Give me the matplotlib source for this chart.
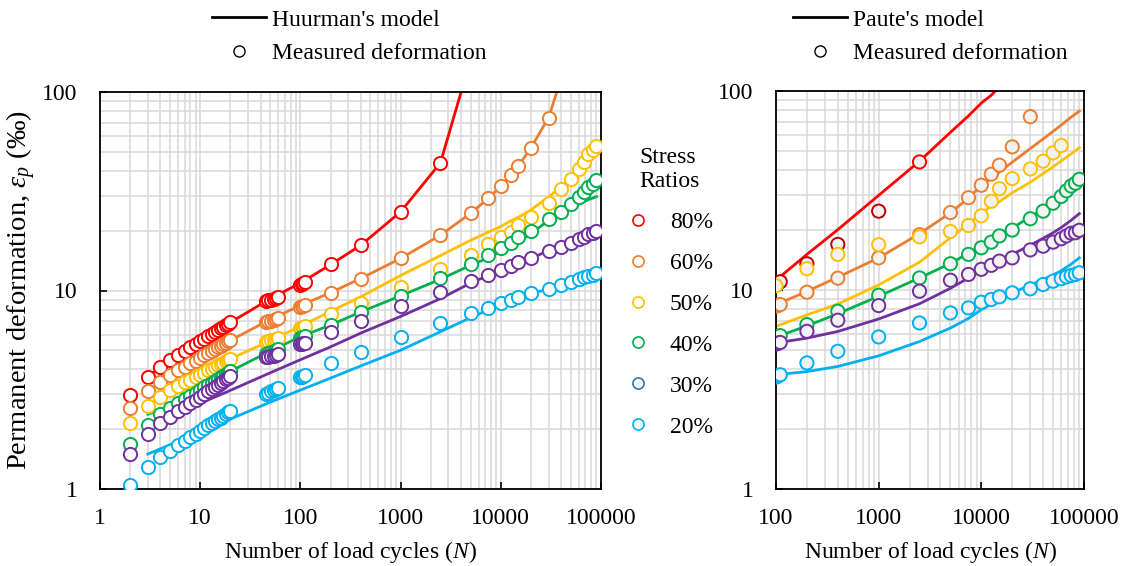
import matplotlib
matplotlib.use("Agg")
import matplotlib.pyplot as plt
from matplotlib.lines import Line2D
from matplotlib.ticker import LogLocator, NullFormatter, FixedLocator, FixedFormatter

plt.rcParams['font.family'] = ['Liberation Serif', 'DejaVu Serif']
plt.rcParams['mathtext.fontset'] = 'custom'
plt.rcParams['mathtext.rm'] = 'Liberation Serif'
plt.rcParams['mathtext.it'] = 'Liberation Serif:italic'
FS = 17

# ---- measured permanent deformation (per mille) vs load cycles ----
n_meas = [2, 3, 4, 5, 6, 7, 8, 9, 10, 11, 12, 13, 14, 15, 16, 17, 18, 19, 20,
          45, 48, 51, 54, 57, 60,
          100, 103, 106, 110,
          200, 400, 1000, 2500,
          5000, 7500, 10000, 12500, 15000, 20000, 30000, 40000, 50000, 60000,
          67500, 75000, 82500, 90000]

eps_80 = [2.97, 3.68, 4.10, 4.47, 4.73, 4.97, 5.18, 5.38, 5.56, 5.73, 5.89, 6.04, 6.18,
          6.32, 6.45, 6.57, 6.69, 6.81, 6.92,
          8.85, 8.95, 9.0, 9.1, 9.15, 9.25,
          10.7, 10.8, 10.9, 11.0,
          13.55, 16.95, 24.9, 44.0]
eps_60 = [2.57, 3.12, 3.47, 3.75, 3.96, 4.13, 4.29, 4.43, 4.59, 4.72, 4.85, 4.96, 5.07,
          5.17, 5.27, 5.37, 5.46, 5.55, 5.63,
          6.95, 7.0, 7.05, 7.1, 7.2, 7.25,
          8.3, 8.35, 8.4, 8.45,
          9.75, 11.47, 14.5, 18.97,
          24.5, 29.1, 33.6, 38.2, 42.4, 52.4, 74.3]
eps_50 = [2.16, 2.62, 2.92, 3.15, 3.30, 3.44, 3.56, 3.67, 3.77, 3.86, 3.96, 4.04, 4.12,
          4.19, 4.26, 4.33, 4.39, 4.46, 4.52,
          5.5, 5.55, 5.6, 5.65, 5.7, 5.75,
          6.45, 6.5, 6.55, 6.6,
          7.59, 8.68, 10.45, 12.8,
          15.1, 17.15, 18.66, 19.8, 21.4, 23.5, 27.7, 32.3, 36.3, 40.8, 44.6, 48.7, 51.0, 53.7]
eps_40 = [1.68, 2.10, 2.38, 2.55, 2.70, 2.83, 2.95, 3.06, 3.16, 3.26, 3.35, 3.43, 3.51,
          3.58, 3.66, 3.73, 3.79, 3.86, 3.92,
          4.8, 4.85, 4.9, 4.95, 5.0, 5.05,
          5.75, 5.8, 5.85, 5.9,
          6.70, 7.82, 9.41, 11.5,
          13.55, 15.1, 16.3, 17.4, 18.7, 20.0, 22.8, 24.9, 27.3, 29.5, 31.5, 33.3, 34.4, 36.0]
eps_30 = [1.50, 1.89, 2.14, 2.31, 2.46, 2.59, 2.71, 2.82, 2.92, 3.02, 3.11, 3.20, 3.28,
          3.35, 3.43, 3.50, 3.57, 3.63, 3.70,
          4.6, 4.63, 4.67, 4.7, 4.74, 4.78,
          5.35, 5.38, 5.42, 5.45,
          6.20, 7.05, 8.35, 9.86,
          11.2, 11.97, 12.7, 13.3, 13.97, 14.5, 15.9, 16.6, 17.4, 18.1, 18.7, 19.3, 19.4, 19.95]
eps_20 = [1.05, 1.29, 1.45, 1.56, 1.66, 1.75, 1.82, 1.90, 1.96, 2.03, 2.09, 2.14, 2.20,
          2.25, 2.29, 2.34, 2.39, 2.43, 2.47,
          3.02, 3.06, 3.1, 3.14, 3.18, 3.22,
          3.65, 3.68, 3.72, 3.75,
          4.30, 4.92, 5.81, 6.83,
          7.67, 8.13, 8.68, 8.96, 9.24, 9.68, 10.14, 10.66, 11.07, 11.39, 11.65, 11.83, 11.97, 12.2]

# 50 % series as used on the Paute panel
n_50_paute = [100, 200, 400, 1000, 2500, 5000, 7500, 10000, 12500, 15000, 20000,
              30000, 40000, 50000, 60000]
eps_50_paute = [10.5, 12.8, 15.1, 16.9, 18.5, 19.7, 21.1, 23.6, 27.9, 32.3, 36.3,
                40.6, 44.4, 48.9, 53.2]

# ---- Huurman's model curves ----
n_huur = [3, 5, 10, 20, 50, 100, 200, 400, 1000, 2500, 5000, 7500, 10000, 12500, 15000,
          20000, 30000, 40000, 50000, 60000, 67500, 75000, 82500, 90000]
huur_80 = [3.7, 4.45, 5.55, 6.9, 9.1, 10.9, 13.5, 16.9, 24.9, 44.0, 146]
huur_60 = [3.1, 3.75, 4.6, 5.6, 7.15, 8.4, 9.75, 11.5, 14.5, 19.0, 24.5, 29.1, 33.6,
           38.2, 42.4, 52.4, 74.3, 117]
huur_50 = [2.62, 3.15, 3.77, 4.52, 5.6, 6.6, 7.85, 9.3, 11.9, 15.0, 17.9, 19.7, 21.0,
           22.4, 23.4, 25.5, 29.6, 33.3, 36.5, 40.6, 44.3, 48.3, 51.0, 53.7]
huur_40 = [2.38, 2.6, 3.15, 3.92, 4.95, 5.85, 6.7, 7.8, 9.4, 11.4, 13.4, 14.6, 15.8,
           16.8, 17.6, 19.3, 22.6, 24.6, 26.0, 27.2, 28.0, 28.7, 29.2, 29.7]
huur_30 = [2.07, 2.31, 2.70, 3.14, 3.85, 4.48, 5.2, 6.1, 7.4, 9.1, 10.9, 11.9, 12.7,
           13.3, 13.97, 14.5, 15.9, 16.6, 17.4, 18.1, 18.7, 19.3, 19.4, 19.95]
huur_20 = [1.50, 1.67, 1.94, 2.25, 2.74, 3.15, 3.62, 4.17, 5.0, 6.2, 7.3, 8.0, 8.68,
           8.96, 9.24, 9.68, 10.14, 10.66, 11.07, 11.39, 11.65, 11.83, 11.97, 12.2]

# ---- Paute's model curves ----
n_paute = [100, 200, 400, 1000, 2500, 5000, 7500, 10000, 12500, 15000, 20000,
           30000, 40000, 50000, 60000, 75000, 90000]
paute_80 = [11.2, 15.1, 20.1, 29.9, 44.4, 62.0, 75.0, 87.0, 95.3, 105.0]
paute_60 = [8.43, 9.84, 11.6, 14.5, 19.2, 24.4, 29.0, 33.5, 36.3, 39.1, 43.9,
            51.4, 57.4, 62.7, 67.4, 73.9, 79.2]
paute_50 = [6.56, 7.5, 8.5, 10.6, 13.8, 18.3, 21.5, 24.4, 26.3, 27.8, 30.8,
            34.8, 38.5, 41.6, 44.5, 48.3, 51.9]
paute_40 = [5.8, 6.6, 7.6, 9.3, 11.5, 13.6, 15.3, 16.7, 17.8, 18.8, 20.5,
            23.3, 25.5, 27.5, 29.3, 32.0, 35.3]
paute_30 = [5.42, 5.73, 6.19, 7.15, 8.53, 10.2, 11.5, 12.8, 13.6, 14.2, 15.1,
            16.8, 18.2, 19.4, 20.6, 22.4, 24.2]
paute_20 = [3.75, 3.89, 4.13, 4.67, 5.51, 6.44, 7.2, 7.96, 8.5, 8.9, 9.66,
            10.6, 11.3, 11.9, 12.5, 13.5, 14.5]

ratios = ['80%', '60%', '50%', '40%', '30%', '20%']
colors = ['#FF0000', '#ED7D31', '#FFC000', '#00B050', '#7030A0', '#00B0F0']
legend_colors = ['#FF0000', '#ED7D31', '#FFC000', '#00B050', '#2E75B6', '#00B0F0']

meas = [eps_80, eps_60, eps_50, eps_40, eps_30, eps_20]
huur = [huur_80, huur_60, huur_50, huur_40, huur_30, huur_20]
paute = [paute_80, paute_60, paute_50, paute_40, paute_30, paute_20]


def style_axes(ax, xmin, xlabels):
    ax.set_xscale('log')
    ax.set_yscale('log')
    ax.set_xlim(xmin, 1e5)
    ax.set_ylim(1, 100)
    ax.xaxis.set_major_locator(FixedLocator([float(t) for t in xlabels]))
    ax.xaxis.set_major_formatter(FixedFormatter(xlabels))
    ax.yaxis.set_major_locator(FixedLocator([1, 10, 100]))
    ax.yaxis.set_major_formatter(FixedFormatter(['1', '10', '100']))
    for axis in (ax.xaxis, ax.yaxis):
        axis.set_minor_locator(LogLocator(base=10, subs=range(2, 10), numticks=20))
        axis.set_minor_formatter(NullFormatter())
    ax.grid(True, which='both', color='#D9D9D9', lw=1.1)
    ax.set_axisbelow(True)
    ax.tick_params(which='major', direction='in', length=5, width=1.2,
                   labelsize=FS, pad=14)
    ax.tick_params(which='minor', length=0)
    ax.tick_params(axis='y', pad=16)
    for sp in ax.spines.values():
        sp.set_linewidth(1.3)
    ax.set_xlabel('Number of load cycles ($N$)', fontsize=FS, labelpad=7)


fig = plt.figure(figsize=(11.26, 5.66), dpi=100)
ax1 = fig.add_axes([100 / 1126, 77 / 566, 501 / 1126, 397 / 566])
ax2 = fig.add_axes([776 / 1126, 77 / 566, 308 / 1126, 398 / 566])

# left: Huurman
style_axes(ax1, 1, ['1', '10', '100', '1000', '10000', '100000'])
for c, h in zip(colors, huur):
    ax1.plot(n_huur[:len(h)], h, color=c, lw=2.0, zorder=2)
for c, m in zip(colors, meas):
    ax1.plot(n_meas[:len(m)], m, ls='none', marker='o', ms=9.5, mew=1.4,
             mec=c, mfc='white', zorder=3)
ax1.set_ylabel('Permanent deformation, $ε_p$ (‰)', fontsize=20.5, labelpad=3)

# right: Paute
style_axes(ax2, 100, ['100', '1000', '10000', '100000'])
for c, p in zip(colors, paute):
    ax2.plot(n_paute[:len(p)], p, color=c, lw=2.0, zorder=2)
for i, (c, m) in enumerate(zip(colors, meas)):
    if i == 2:
        nn, ee = n_50_paute, eps_50_paute
    else:
        pairs = [(n, e) for n, e in zip(n_meas, m) if n >= 100]
        nn = [p[0] for p in pairs]
        ee = [p[1] for p in pairs]
    edge = [c] * len(nn)
    if i == 0:
        # early 80% points show up in a deeper red on this panel
        edge = ['#C00000' if n < 2500 else c for n in nn]
    ax2.scatter(nn, ee, s=9.5 ** 2, marker='o', linewidths=1.4,
                edgecolors=edge, facecolors='#F2F2F2', zorder=3)

# model / measured legends above each panel
lh = [Line2D([], [], color='black', lw=2),
      Line2D([], [], ls='none', marker='o', ms=8, mew=1, mec='black', mfc='white')]
fig.legend(lh, ["Huurman's model", 'Measured deformation'], loc='upper left',
           bbox_to_anchor=(212 / 1126, 1 - 9 / 566), frameon=False, fontsize=FS,
           borderpad=0, borderaxespad=0, handlelength=2.3, handletextpad=0.25,
           labelspacing=0.5)
fig.legend(lh, ["Paute's model", 'Measured deformation'], loc='upper left',
           bbox_to_anchor=(793 / 1126, 1 - 9 / 566), frameon=False, fontsize=FS,
           borderpad=0, borderaxespad=0, handlelength=2.3, handletextpad=0.25,
           labelspacing=0.5)

# stress ratio legend between the panels
sh = [Line2D([], [], ls='none', marker='o', ms=8, mew=1.2, mec=c, mfc='white')
      for c in legend_colors]
fig.legend(sh, ratios, loc='upper left', title='Stress\nRatios',
           title_fontsize=FS, bbox_to_anchor=(626 / 1126, 1 - 147 / 566),
           frameon=False, fontsize=FS, borderpad=0, borderaxespad=0,
           handlelength=1.0, handletextpad=0.85, labelspacing=0.82)

fig.savefig('out.png', dpi=100)
